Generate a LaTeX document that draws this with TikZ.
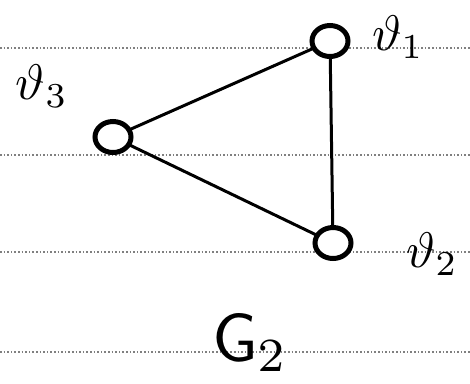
\documentclass[tikz,border=0pt]{standalone}
\usepackage{graphicx}
\usetikzlibrary{shapes.geometric}
\begin{document}
\begin{tikzpicture}[x=1pt,y=-1pt,
  vert/.style={draw=black,fill=white,line width=5pt,ellipse,minimum width=36pt,minimum height=31pt,inner sep=0pt},
  edge/.style={draw=black,line width=3pt},
  rule/.style={draw=gray,line width=1.6pt,dotted},
  lbl/.style={inner sep=0pt}]
\useasboundingbox (0,0) rectangle (470,383);
\fill[white] (0,0) rectangle (470,383);
% ruled lines
\draw[rule] (0,48) -- (470,48);
\draw[rule] (0,155) -- (470,155);
\draw[rule] (0,252) -- (470,252);
\draw[rule] (0,352) -- (470,352);
% edges drawn under nodes
\coordinate (c1) at (330,41);
\coordinate (c2) at (333,243);
\coordinate (c3) at (113,137);
\draw[edge] (c3) -- (c1);
\draw[edge] (c1) -- (c2);
\draw[edge] (c3) -- (c2);
\node[vert] (v1) at (c1) {};
\node[vert] (v2) at (c2) {};
\node[vert] (v3) at (c3) {};
% labels
\node[lbl] (l1) at (398,37) {\scalebox{5}{$\vartheta_1$}};
\node[lbl] (l2) at (432,254) {\scalebox{5}{$\vartheta_2$}};
\node[lbl] (l3) at (42,86) {\scalebox{5}{$\vartheta_3$}};
\node[lbl] (g) at (250,343) {\scalebox{6.8}{$\mathsf{G}_2$}};
\end{tikzpicture}
\end{document}
